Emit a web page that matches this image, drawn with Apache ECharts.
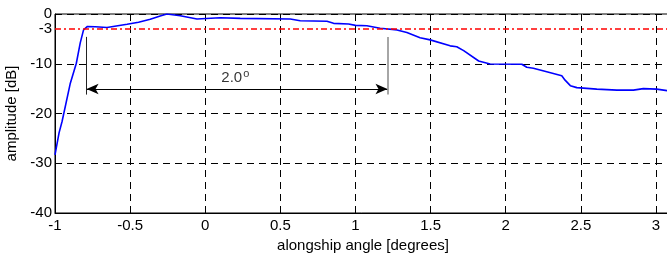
<!DOCTYPE html>
<html>
<head>
<meta charset="utf-8">
<script src="https://cdn.jsdelivr.net/npm/echarts@6/dist/echarts.min.js"></script>
<style>
  html, body { margin: 0; padding: 0; background: #fff; }
  #chart { width: 667px; height: 253px; }
</style>
</head>
<body>
<div id="chart"></div>
<script>
// beam pattern
const angle = [-1.0, -0.973, -0.953, -0.898, -0.858, -0.832, -0.81, -0.784, -0.732, -0.654,
  -0.52, -0.444, -0.366, -0.3, -0.255, -0.166, -0.055, 0.1, 0.233, 0.566, 0.632, 0.81,
  0.854, 0.954, 1.0, 1.076, 1.164, 1.276, 1.342, 1.43, 1.497, 1.63, 1.674, 1.72, 1.82,
  1.896, 2.107, 2.14, 2.184, 2.273, 2.373, 2.395, 2.43, 2.473, 2.606, 2.74, 2.85, 2.916,
  3.005, 3.074, 3.1];
const amplitude = [-28.3, -23.9, -21.6, -13.9, -9.9, -5.8, -3.2, -2.5, -2.55, -2.7,
  -2.07, -1.67, -1.07, -0.4, 0, -0.34, -1.0, -0.74, -0.87, -1.0, -1.35, -1.47,
  -1.88, -2.0, -2.28, -2.35, -2.88, -3.2, -3.7, -4.76, -5.2, -6.4, -6.57, -7.37, -9.45,
  -10.05, -10.1, -10.7, -10.9, -11.6, -12.4, -13.3, -14.4, -14.8, -15.1, -15.3, -15.3, -15.0,
  -15.1, -15.4, -15.5];

const xTicks = [-1, -0.5, 0, 0.5, 1, 1.5, 2, 2.5, 3];
const halfPower = -3;

// beamwidth annotation
const arrowX = [-0.79, 1.213];
const arrowY = -15.08;
const barY = [-4.6, -16.2];
const widthLabel = [0.2, -12.9];

const font = 'Liberation Sans, Arial, Helvetica, sans-serif';
const fs = 15;
const chart = echarts.init(document.getElementById('chart'));

chart.setOption({
  animation: false,
  textStyle: { fontFamily: font },
  grid: {
    left: 55, top: 14, bottom: 40, right: -4,
    outerBoundsMode: 'none',
    show: true, borderColor: '#000', borderWidth: 1
  },
  xAxis: {
    type: 'value', min: -1, max: 3.1, interval: 0.5,
    name: 'alongship angle [degrees]', nameLocation: 'middle', nameGap: 22,
    nameTextStyle: { fontSize: fs, color: '#000', fontFamily: font },
    axisLine: { onZero: false, lineStyle: { color: '#000', width: 1 } },
    axisTick: { inside: true, length: 4, lineStyle: { color: '#000' } },
    axisLabel: {
      color: '#000', fontSize: fs, margin: 5,
      customValues: xTicks,
      formatter: v => String(v)
    },
    splitLine: { show: true, lineStyle: { color: '#000', type: [7, 5], width: 1 } }
  },
  yAxis: {
    type: 'value', min: -40, max: 0, interval: 10,
    name: 'amplitude [dB]', nameLocation: 'middle', nameGap: 28,
    nameTextStyle: { fontSize: fs, color: '#000', fontFamily: font },
    axisLine: { show: true, onZero: false, lineStyle: { color: '#000', width: 1 } },
    axisTick: { show: true, inside: true, length: 4, lineStyle: { color: '#000' } },
    axisLabel: { color: '#000', fontSize: fs, margin: 3 },
    splitLine: { show: true, lineStyle: { color: '#000', type: [7, 5], width: 1 } }
  },
  series: [
    {
      type: 'line',
      data: angle.map((a, i) => [a, amplitude[i]]),
      showSymbol: false,
      clip: true,
      lineStyle: { color: '#0000ff', width: 1.6 },
      markLine: {
        silent: true,
        symbol: 'none',
        lineStyle: { color: '#ff0000', type: [6, 3, 2, 3], width: 1.5 },
        label: {
          show: true, position: 'start', distance: 3,
          formatter: String(halfPower), color: '#000', fontSize: fs, fontFamily: font
        },
        data: [{ yAxis: halfPower }]
      },
      z: 3
    },
    {
      type: 'line',
      data: [],
      markLine: {
        silent: true,
        label: { show: false },
        data: [
          [
            { coord: [arrowX[0], arrowY], symbol: 'arrow', symbolSize: [8, 12], lineStyle: { color: '#000', width: 1, type: 'solid' } },
            { coord: [arrowX[1], arrowY], symbol: 'arrow', symbolSize: [8, 12] }
          ],
          [
            { coord: [arrowX[0], barY[0]], symbol: 'none', lineStyle: { color: '#222', width: 1, type: 'solid' } },
            { coord: [arrowX[0], barY[1]], symbol: 'none' }
          ],
          [
            { coord: [arrowX[1], barY[0]], symbol: 'none', lineStyle: { color: '#888', width: 1.5, type: 'solid' } },
            { coord: [arrowX[1], barY[1]], symbol: 'none' }
          ]
        ],
        itemStyle: { color: '#000' }
      },
      z: 4
    },
    {
      type: 'scatter',
      data: [widthLabel],
      symbolSize: 0,
      silent: true,
      label: {
        show: true, position: 'inside',
        formatter: '{a|2.0}{b|o}',
        rich: {
          a: { fontSize: fs, color: '#000', fontFamily: font },
          b: { fontSize: 11, color: '#000', fontFamily: font, padding: [0, 0, 8, 1] }
        }
      }
    }
  ]
});
</script>
</body>
</html>
